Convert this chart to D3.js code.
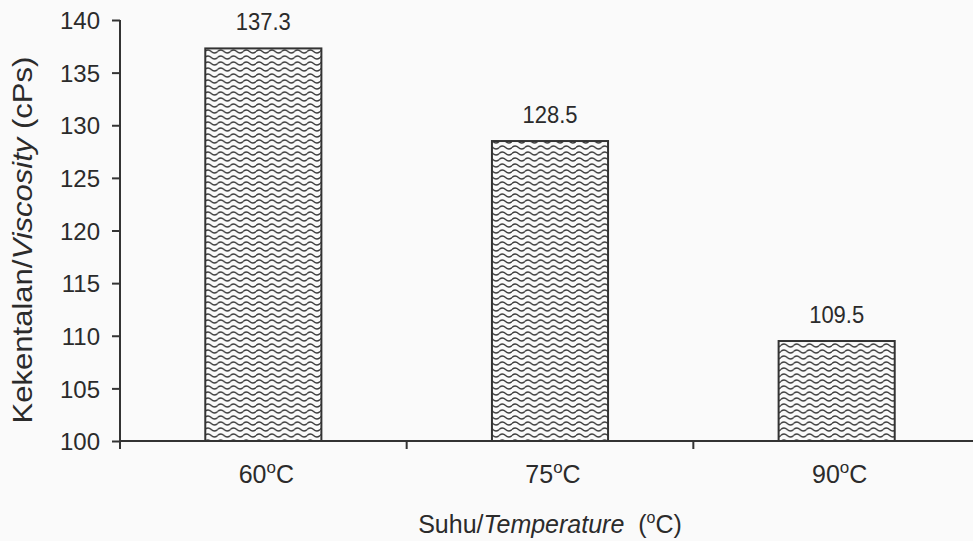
<!DOCTYPE html>
<html>
<head>
<meta charset="utf-8">
<script src="https://cdn.jsdelivr.net/npm/d3@7"></script>
<style>
  body { margin: 0; background: #fafafa; }
  text { font-family: "Liberation Sans", Arial, sans-serif; fill: #2b2b2b; }
</style>
</head>
<body>
<script>
// Data
var categories = ["60", "75", "90"],
    viscosity = [137.3, 128.5, 109.5],
    yTicks = [100, 105, 110, 115, 120, 125, 130, 135, 140];

var width = 973,
    height = 541;

var svg = d3.select("body")
    .append("svg")
    .attr("width", width)
    .attr("height", height);

// wavy fill for the bars
var defs = svg.append("defs");
var pat = defs.append("pattern")
    .attr("id", "wave")
    .attr("patternUnits", "userSpaceOnUse")
    .attr("width", 12.8)
    .attr("height", 6);
pat.append("rect").attr("width", 12.8).attr("height", 6).attr("fill", "#fafafa");
pat.append("path")
    .attr("d", "M0,3.5 Q3.2,0.5 6.4,3.5 T12.8,3.5")
    .attr("fill", "none")
    .attr("stroke", "#3a3a3a")
    .attr("stroke-width", 1.4);

var x = d3.scaleBand()
    .domain(categories)
    .range([120, 980])
    .padding(0);

var y = d3.scaleLinear()
    .domain([100, 140])
    .range([441, 20]);

var barW = x.bandwidth() * 0.405;

// bars
svg.selectAll(".bar")
    .data(viscosity)
    .enter()
    .append("rect")
    .attr("class", "bar")
    .attr("x", function(d, i){ return x(categories[i]) + x.bandwidth() / 2 - barW / 2; })
    .attr("y", function(d){ return y(d); })
    .attr("width", barW)
    .attr("height", function(d){ return y(100) - y(d); })
    .attr("fill", "url(#wave)")
    .attr("stroke", "#333")
    .attr("stroke-width", 2);

// value labels (scan looks slightly stretched vertically)
svg.selectAll(".val")
    .data(viscosity)
    .enter()
    .append("text")
    .attr("class", "val")
    .attr("transform", function(d, i){
      return "translate(" + (x(categories[i]) + x.bandwidth() / 2) + "," + (y(d) - 18) + ") scale(1,1.08)";
    })
    .attr("text-anchor", "middle")
    .style("font-size", "22px")
    .text(function(d){ return d.toFixed(1); });

// y axis
var yAxis = svg.append("g")
    .attr("transform", "translate(120,0)")
    .call(d3.axisLeft(y).tickValues(yTicks).tickSize(8).tickPadding(12).tickSizeOuter(0));
yAxis.selectAll("text").style("font-size", "24px").attr("dy", "0.36em");

// x axis: ticks at band boundaries
var xAxis = svg.append("g")
    .attr("transform", "translate(0," + y(100) + ")");
xAxis.append("line")
    .attr("x1", 120).attr("x2", width)
    .attr("stroke", "#333").attr("stroke-width", 2);
xAxis.selectAll(".xtick")
    .data(categories)
    .enter()
    .append("line")
    .attr("x1", function(d){ return x(d); })
    .attr("x2", function(d){ return x(d); })
    .attr("y1", 0).attr("y2", 8)
    .attr("stroke", "#333").attr("stroke-width", 2);

yAxis.selectAll("path, line").attr("stroke", "#333").attr("stroke-width", 2);
yAxis.select(".domain").attr("d", "M0,20V449");

// category labels with superscript o
var catLab = svg.selectAll(".cat")
    .data(categories)
    .enter()
    .append("text")
    .attr("class", "cat")
    .attr("x", function(d){ return x(d) + x.bandwidth() / 2 + 3; })
    .attr("y", 483)
    .attr("text-anchor", "middle")
    .style("font-size", "25px");
catLab.append("tspan").text(function(d){ return d; });
catLab.append("tspan").attr("dy", -10).style("font-size", "17px").text("o");
catLab.append("tspan").attr("dy", 10).text("C");

// x title
var xt = svg.append("text")
    .attr("x", 550)
    .attr("y", 533)
    .attr("text-anchor", "middle")
    .attr("xml:space", "preserve")
    .style("white-space", "pre")
    .style("font-size", "25px");
xt.append("tspan").text("Suhu/");
xt.append("tspan").style("font-style", "italic").text("Temperature");
xt.append("tspan").text("  (");
xt.append("tspan").attr("dy", -10).style("font-size", "16px").text("o");
xt.append("tspan").attr("dy", 10).text("C)");

// y title
var yt = svg.append("text")
    .attr("transform", "translate(32,240) rotate(-90) scale(1.15,1)")
    .attr("text-anchor", "middle")
    .style("font-size", "27px");
yt.append("tspan").text("Kekentalan/");
yt.append("tspan").style("font-style", "italic").text("Viscosity");
yt.append("tspan").text(" (cPs)");
</script>
</body>
</html>
